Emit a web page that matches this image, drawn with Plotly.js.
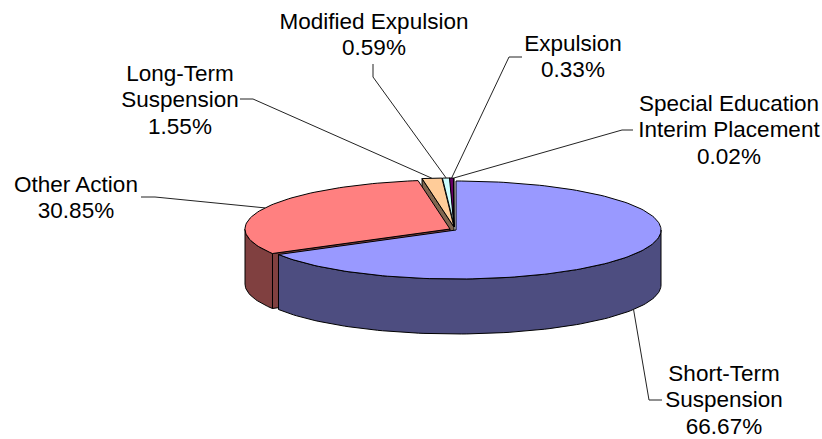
<!DOCTYPE html>
<html>
<head>
<meta charset="utf-8">
<script src="https://cdn.plot.ly/plotly-3.0.1.min.js"></script>
<style>html,body{margin:0;padding:0;background:#fff}</style>
</head>
<body>
<div id="chart" style="width:822px;height:439px"></div>
<script>
// Disciplinary action shares, in drawing order clockwise from twelve o'clock
const categories = ["Short-Term\nSuspension", "Other Action", "Long-Term\nSuspension", "Modified Expulsion", "Expulsion", "Special Education\nInterim Placement"];
const shares = [66.67, 30.85, 1.55, 0.59, 0.33, 0.02];
const shareLabels = ["66.67%", "30.85%", "1.55%", "0.59%", "0.33%", "0.02%"];

const topColors = ["#9999FF", "#FF8080", "#FFCC99", "#CCFFFF", "#660066", "#000080"];
const wallColors = ["#4D4D80", "#804040", "#806650", "#668080", "#330033", "#000040"];

// Projected pie geometry, in pixels
const RX = 205, RY = 49, DEPTH = 55;
const explodedCentres = [[456, 230], [450, 229], [454, 227], [454.5, 227], [454, 227], [454, 227]];

// Label text placement: centre x and first line y, then leader elbow path
const labelBoxes = [[724, 375], [76, 186], [180, 75], [374, 23], [573, 45], [729, 105]];
const leaderPaths = [
  [[662, 400], [649, 400]],
  [[141, 197], [155, 197]],
  [[240, 99], [253, 99]],
  [[373, 64], [373, 77]],
  [[522, 57], [509, 57]],
  [[633, 130], [622, 130]]
];
const LINE_HEIGHT = 26.7;

const total = shares.reduce((a, b) => a + b, 0);
const rad = d => d * Math.PI / 180;
const rim = (c, t, drop = 0) => [c[0] + RX * Math.sin(rad(t)), c[1] - RY * Math.cos(rad(t)) + drop];

let running = 0;
const slices = shares.map((v, i) => {
  const start = running / total * 360;
  running += v;
  return { start, end: running / total * 360, c: explodedCentres[i], top: topColors[i], wall: wallColors[i] };
});

function poly(points, color) {
  return {
    type: "scatter", mode: "lines", hoverinfo: "skip", showlegend: false,
    x: points.map(p => p[0]), y: points.map(p => p[1]),
    fill: "toself", fillcolor: color,
    line: { color: "#000", width: 1 }
  };
}
function arc(c, a, b, drop = 0) {
  const n = Math.max(2, Math.ceil(Math.abs(b - a) / 1.5));
  const out = [];
  for (let k = 0; k <= n; k++) out.push(rim(c, a + (b - a) * k / n, drop));
  return out;
}
function topFace(s) {
  return poly([s.c, ...arc(s.c, s.start, s.end), s.c], s.top);
}
function outerWall(s, a, b) {
  return poly([...arc(s.c, a, b), ...arc(s.c, b, a, DEPTH), rim(s.c, a)], s.wall);
}
function cutFace(s, t) {
  const r = rim(s.c, t), rb = rim(s.c, t, DEPTH);
  return poly([s.c, r, rb, [s.c[0], s.c[1] + DEPTH], s.c], s.wall);
}

const [blue, red, peach, pale, purple, navy] = slices;

const traces = [
  cutFace(peach, peach.start),
  cutFace(red, red.start),
  outerWall(red, red.start, 270),
  topFace(red),
  topFace(peach),
  topFace(pale),
  topFace(purple),
  topFace(navy),
  outerWall(blue, 90, blue.end),
  topFace(blue)
];

// Leader lines run from the label elbow to the rim at the middle of each slice
slices.forEach((s, i) => {
  const mid = (s.start + s.end) / 2;
  const front = Math.cos(rad(mid)) < 0 && Math.sin(rad(mid)) > 0;
  const end = rim(s.c, mid, front ? DEPTH : 0);
  const path = [...leaderPaths[i], end];
  traces.push({
    type: "scatter", mode: "lines", hoverinfo: "skip", showlegend: false,
    x: path.map(p => p[0]), y: path.map(p => p[1]),
    line: { color: "#222", width: 1 }
  });
});

// Each text line is a point on its own text trace, which keeps the label leading tight
categories.forEach((name, i) => {
  const lines = name.split("\n").concat(shareLabels[i]);
  traces.push({
    type: "scatter", mode: "text", hoverinfo: "skip", showlegend: false,
    x: lines.map(() => labelBoxes[i][0]),
    y: lines.map((_, k) => labelBoxes[i][1] + k * LINE_HEIGHT),
    text: lines, textposition: "middle center", cliponaxis: false,
    textfont: { family: "Liberation Sans, Arial, sans-serif", size: 22.5, color: "#000" }
  });
});

Plotly.newPlot("chart", traces, {
  width: 822, height: 439,
  margin: { l: 0, r: 0, t: 0, b: 0 },
  paper_bgcolor: "#fff", plot_bgcolor: "#fff",
  showlegend: false,
  xaxis: { range: [0, 822], visible: false, fixedrange: true },
  yaxis: { range: [439, 0], visible: false, fixedrange: true }
}, { displayModeBar: false, staticPlot: true });
</script>
</body>
</html>
